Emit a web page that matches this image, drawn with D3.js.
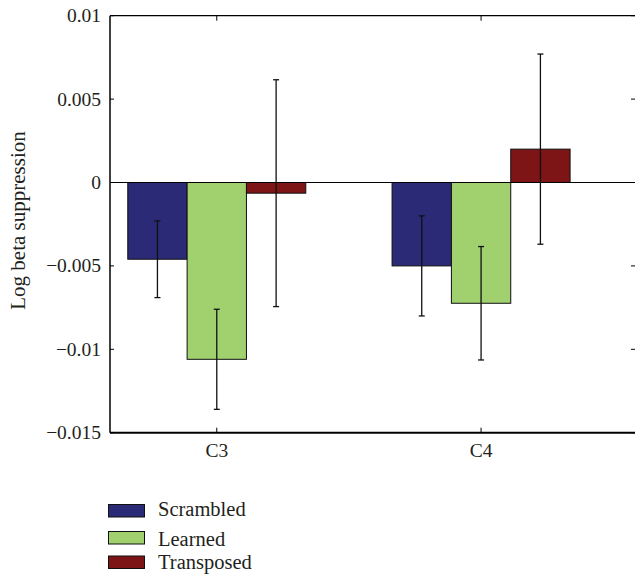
<!DOCTYPE html>
<html><head><meta charset="utf-8">
<script src="https://cdn.jsdelivr.net/npm/d3@7"></script>
<style>body{margin:0;background:#fff;overflow:hidden}svg{display:block}</style>
</head><body>
<svg id="c" width="635" height="575"></svg>
<script>
const categories = ["C3", "C4"];
const seriesNames = ["Scrambled", "Learned", "Transposed"];
const seriesColors = ["#2a2a76", "#a1d06f", "#7d1416"];
const scrambledValues = [-0.0046, -0.0050];
const learnedValues = [-0.0106, -0.00724];
const transposedValues = [-0.00064, 0.0020];
const scrambledErr = [0.0023, 0.0030];
const learnedErr = [0.0030, 0.0034];
const transposedErr = [0.0068, 0.0057];
const yTicks = [0.01, 0.005, 0, -0.005, -0.01, -0.015];
const yTickLabels = ["0.01", "0.005", "0", "\u22120.005", "\u22120.01", "\u22120.015"];

const values = [scrambledValues, learnedValues, transposedValues];
const errs = [scrambledErr, learnedErr, transposedErr];

const svg = d3.select("#c");
const L = 110, R = 640, T = 15.7, B = 432.7;
const font = "Liberation Serif";
const ink = "#231f20";

const y = d3.scaleLinear().domain([-0.015, 0.01]).range([B, T]);
const x = d3.scaleLinear().domain([0.596, 2.6]).range([L, L + (2.6 - 0.596) * 264.3]);
const barW = 0.2245;

// bars
seriesNames.forEach((s, si) => {
  categories.forEach((c, ci) => {
    const v = values[si][ci];
    const cx = ci + 1 + (si - 1) * barW;
    const x0 = x(cx - barW / 2), x1 = x(cx + barW / 2);
    svg.append("rect")
      .attr("x", x0).attr("width", x1 - x0)
      .attr("y", y(Math.max(0, v))).attr("height", Math.abs(y(v) - y(0)))
      .attr("fill", seriesColors[si]).attr("stroke", "#111").attr("stroke-width", 1);
  });
});

// zero line
svg.append("line").attr("x1", L).attr("x2", R).attr("y1", y(0)).attr("y2", y(0))
  .attr("stroke", "#000").attr("stroke-width", 1.2);

// error bars
seriesNames.forEach((s, si) => {
  categories.forEach((c, ci) => {
    const v = values[si][ci], e = errs[si][ci];
    const cx = x(ci + 1 + (si - 1) * barW);
    const g = svg.append("g").attr("stroke", "#111").attr("stroke-width", 1.3);
    g.append("line").attr("x1", cx).attr("x2", cx).attr("y1", y(v + e)).attr("y2", y(v - e));
    [v + e, v - e].forEach(t => g.append("line").attr("x1", cx - 3).attr("x2", cx + 3).attr("y1", y(t)).attr("y2", y(t)));
  });
});

// frame
svg.append("line").attr("x1", L).attr("x2", R).attr("y1", T).attr("y2", T).attr("stroke", "#000").attr("stroke-width", 1.2);
svg.append("line").attr("x1", L).attr("x2", R).attr("y1", B).attr("y2", B).attr("stroke", "#000").attr("stroke-width", 2);
svg.append("line").attr("x1", L).attr("x2", L).attr("y1", T).attr("y2", B).attr("stroke", "#000").attr("stroke-width", 1.5);

// y ticks
const yAxis = svg.append("g");
yTicks.forEach((t, i) => {
  yAxis.append("line").attr("x1", L).attr("x2", L + 4).attr("y1", y(t)).attr("y2", y(t)).attr("stroke", "#000").attr("stroke-width", 1);
  yAxis.append("line").attr("x1", 635).attr("x2", 631).attr("y1", y(t)).attr("y2", y(t)).attr("stroke", "#000").attr("stroke-width", 1);
  yAxis.append("text").attr("x", L - 9).attr("y", y(t)).attr("dy", "0.33em")
    .attr("text-anchor", "end").style("font-family", font).style("font-size", "19.5px").attr("fill", ink)
    .text(yTickLabels[i]);
});

// x ticks
categories.forEach((c, ci) => {
  const cx = x(ci + 1);
  svg.append("line").attr("x1", cx).attr("x2", cx).attr("y1", T).attr("y2", T + 5).attr("stroke", "#000").attr("stroke-width", 1);
  svg.append("line").attr("x1", cx).attr("x2", cx).attr("y1", B).attr("y2", B - 5).attr("stroke", "#000").attr("stroke-width", 1);
  svg.append("text").attr("x", cx).attr("y", B + 24).attr("text-anchor", "middle")
    .style("font-family", font).style("font-size", "19.5px").attr("fill", ink).text(c);
});

// y label
svg.append("text").attr("transform", `translate(25,220.5) rotate(-90)`).attr("text-anchor", "middle")
  .style("font-family", font).style("font-size", "21px").attr("fill", ink).text("Log beta suppression");

// legend
const legY = [504.5, 531.5, 556];
const legTextY = [516, 545.5, 569];
seriesNames.forEach((s, si) => {
  svg.append("rect").attr("x", 108.5).attr("y", legY[si]).attr("width", 36).attr("height", 12.5)
    .attr("fill", seriesColors[si]).attr("stroke", "#111").attr("stroke-width", 1);
  svg.append("text").attr("x", 158).attr("y", legTextY[si]).style("font-family", font)
    .style("font-size", "20.5px").attr("fill", ink).text(s);
});
</script>
</body></html>
